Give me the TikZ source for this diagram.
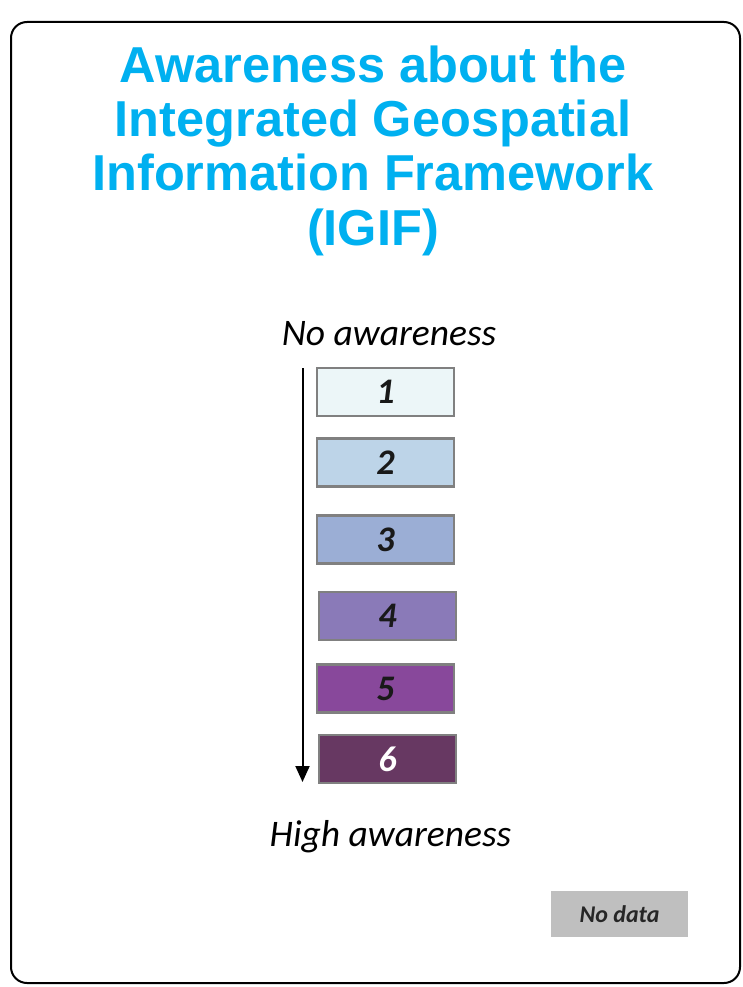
\documentclass[tikz,border=0pt]{standalone}
\usepackage{fontspec}
\setmainfont{Carlito}
\newfontfamily\titlefont{Liberation Sans}
\usetikzlibrary{arrows.meta}
\definecolor{titleblue}{HTML}{00B0F0}
\definecolor{cA}{HTML}{ECF6F8}
\definecolor{cB}{HTML}{BDD4E8}
\definecolor{cC}{HTML}{9BAED5}
\definecolor{cD}{HTML}{8A7AB8}
\definecolor{cE}{HTML}{88489B}
\definecolor{cF}{HTML}{673862}
\definecolor{boxgray}{HTML}{808080}
\definecolor{nodata}{HTML}{BFBFBF}
\begin{document}
\begin{tikzpicture}[x=1pt,y=-1pt,
  level/.style={draw=boxgray,line width=2.2pt,minimum width=137pt,minimum height=48pt,inner sep=0pt,
    font=\fontsize{36}{36}\selectfont\bfseries\itshape,text=black!90},
  label/.style={font=\fontsize{37.5}{37.5}\selectfont\itshape,inner sep=0pt}]
\useasboundingbox (0,0) rectangle (743,987);
\draw[line width=2pt,rounded corners=16pt] (11,22) rectangle (740,983);
\node[font=\titlefont\fontsize{50.5}{54.3}\selectfont\bfseries,text=titleblue,align=center] (title) at (373,150.5)
  {Awareness about the\\Integrated Geospatial\\Information Framework\\(IGIF)};
\node[label] (noaw) at (389,334) {No awareness};
\node[label] (highaw) at (390.5,837) {High awareness};
\node[level,fill=cA] (l1) at (385.5,392) {1};
\node[level,fill=cB] (l2) at (385.5,462.5) {2};
\node[level,fill=cC] (l3) at (385.5,539.5) {3};
\node[level,fill=cD] (l4) at (387.5,616) {4};
\node[level,fill=cE] (l5) at (385.5,688.5) {5};
\node[level,fill=cF,text=white] (l6) at (387.5,759) {6};
\coordinate (atop) at (302.5,368);
\coordinate (abot) at (302.5,782);
\draw[line width=2pt,-{Triangle[length=16pt,width=14pt]}] (atop) -- (abot);
\node[fill=nodata,minimum width=137pt,minimum height=46pt,inner sep=0pt,
  font=\fontsize{24}{24}\selectfont\bfseries\itshape,text=black!85] (nd) at (619.5,914) {No data};
\end{tikzpicture}
\end{document}
